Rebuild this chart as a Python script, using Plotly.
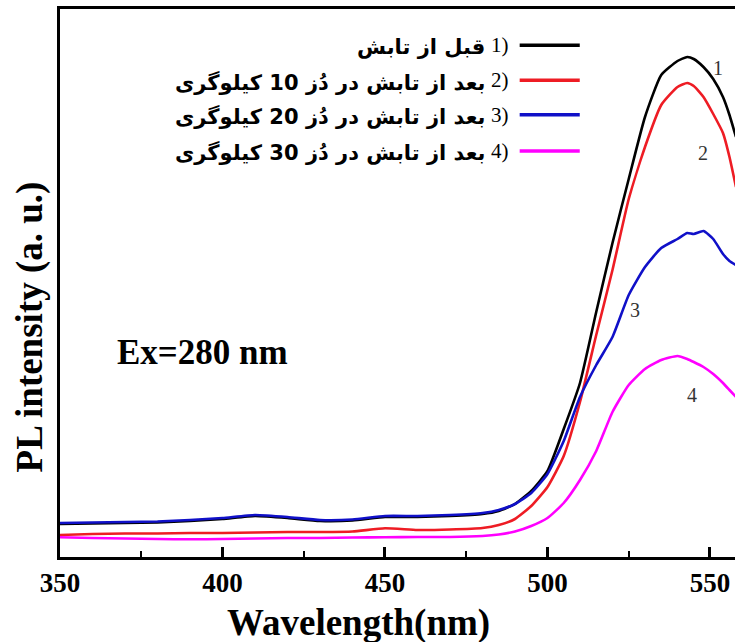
import plotly.graph_objects as go

# wavelength grid (nm)
wavelength = [350, 360, 370, 380, 390, 400, 410, 420, 430, 440, 450, 460, 470, 480,
              485, 490, 495, 500, 505, 510, 515, 520, 525, 530, 535, 540, 543,
              545, 548, 551, 554, 556, 558]

# PL intensity (a.u.)
before = [33, 33.5, 34, 34.5, 36, 38, 41, 39, 36, 36.5, 40, 40, 41, 43,
          46, 53, 66, 86, 128, 174, 245, 314, 378, 440, 482, 496, 500,
          498, 490, 478, 460, 442, 420]
dose10 = [22, 23, 23.5, 23.5, 24, 24, 24.5, 25, 25, 25.5, 28.7, 27, 27.5, 29,
          32, 38, 51, 70, 101, 155, 222, 287, 358, 410, 452, 470, 474,
          471, 460, 443, 424, 400, 370]
dose20 = [34, 34.5, 35, 35.5, 37, 39, 42, 40, 37, 37.5, 41, 41, 42, 44,
          47, 53, 64, 83, 116, 160, 192, 220, 262, 290, 309, 318, 324,
          323, 326, 318, 303, 296, 292]
dose30 = [19.7, 19, 18.5, 18, 17.7, 18, 18.5, 19, 19, 19.5, 19.7, 20, 20, 21,
          22.5, 25.5, 31, 39, 54, 77, 106, 145, 172, 188, 197, 201, 198,
          195, 190, 183, 174, 167, 160]

series_names = ["قبل از تابش",
                "بعد از تابش در دُز 10 کیلوگری",
                "بعد از تابش در دُز 20 کیلوگری",
                "بعد از تابش در دُز 30 کیلوگری"]
series_numbers = ["1", "2", "3", "4"]
series_colors = ["#000000", "#ee1c24", "#1010c8", "#ff00ff"]
series_values = [before, dose10, dose20, dose30]

# curve label positions (wavelength, intensity)
label_x = [552.5, 547.8, 527.0, 544.5]
label_y = [489, 404, 247, 162]

x_ticks = [350, 400, 450, 500, 550]

fig = go.Figure()
order = [0, 1, 3, 2]
for i in order:
    fig.add_trace(go.Scatter(x=wavelength, y=series_values[i], mode="lines",
                             line=dict(color=series_colors[i], width=2.6,
                                       shape="spline", smoothing=0.5),
                             showlegend=False, hoverinfo="skip"))

serif = "Liberation Serif, Times New Roman, serif"
for i in range(4):
    fig.add_annotation(x=label_x[i], y=label_y[i], text=series_numbers[i],
                       showarrow=False, font=dict(family=serif, size=20, color="#333"))

fig.add_annotation(x=394, y=205, text="<b>Ex=280 nm</b>", showarrow=False,
                   font=dict(family=serif, size=35, color="#000"))

# custom right-side legend
row_y = [0.934, 0.870, 0.807, 0.741]
for i in range(4):
    fig.add_shape(type="line", xref="paper", yref="paper",
                  x0=0.681, x1=0.77, y0=row_y[i], y1=row_y[i],
                  line=dict(color=series_colors[i], width=3.5))
    fig.add_annotation(xref="paper", yref="paper", x=0.668, y=row_y[i],
                       xanchor="right", yanchor="middle", showarrow=False,
                       text=series_numbers[i] + ")",
                       font=dict(family=serif, size=21, color="#000"))
    fig.add_annotation(xref="paper", yref="paper", x=0.668, y=row_y[i],
                       xanchor="right", yanchor="middle", showarrow=False,
                       xshift=-24, yshift=-2,
                       text="<b>" + series_names[i] + "</b>",
                       font=dict(family="DejaVu Sans", size=21, color="#000"))

# axis titles
fig.add_annotation(xref="paper", yref="paper", x=-0.045, y=0.42, textangle=-90,
                   text="<b>PL intensity (a. u.)</b>", showarrow=False,
                   xanchor="center", yanchor="middle",
                   font=dict(family=serif, size=37, color="#000"))
fig.add_annotation(xref="x", yref="paper", x=442, y=-0.079,
                   text="<b>Wavelength(nm)</b>", showarrow=False,
                   xanchor="center", yanchor="top",
                   font=dict(family=serif, size=37, color="#000"))

fig.update_layout(
    width=735, height=642,
    margin=dict(l=60, r=0, t=9, b=85),
    paper_bgcolor="white", plot_bgcolor="white",
    xaxis=dict(range=[350, 557.7], tickvals=x_ticks, ticktext=[str(t) for t in x_ticks],
               showgrid=False, zeroline=False, showline=True, linecolor="black",
               linewidth=3, mirror=True, ticks="inside", ticklen=10, tickwidth=2.5,
               tickcolor="black",
               minor=dict(tickvals=[375, 425, 475, 525], ticks="inside", ticklen=6,
                          tickwidth=2, tickcolor="black"),
               tickfont=dict(family=serif, size=27, color="black", weight="bold"),
               ),
    yaxis=dict(range=[0, 548], showgrid=False, zeroline=False, showline=True,
               linecolor="black", linewidth=3, showticklabels=False, ticks=""),
)

fig.write_html("out.html", config={"displayModeBar": False},
               post_script="document.body.style.margin='0px';document.body.style.overflow='hidden';")
